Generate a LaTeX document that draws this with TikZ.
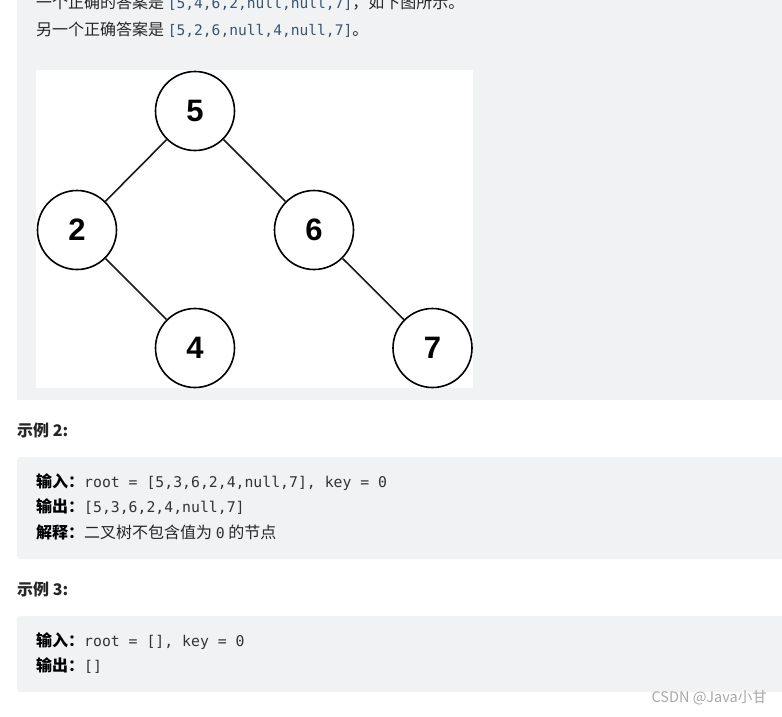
\documentclass[tikz,border=0pt]{standalone}
\usepackage{fontspec}
\newfontfamily\cjk{Noto Sans CJK SC}
\newfontfamily\mono{DejaVu Sans Mono}
\newfontfamily\arial{Liberation Sans}
\definecolor{boxgray}{HTML}{F1F2F4}
\definecolor{txt}{HTML}{262626}
\definecolor{codeblue}{HTML}{3A5570}
\definecolor{codegray}{HTML}{333333}
\definecolor{wm}{HTML}{A8A8A8}
\begin{document}
\begin{tikzpicture}[x=1pt,y=-1pt,
  panel/.style={fill=boxgray,draw=none,rounded corners=3pt},
  treenode/.style={circle,draw=black,line width=1.6pt,fill=white,minimum size=79pt,inner sep=0pt,font=\arial\bfseries\fontsize{31}{31}\selectfont},
  edge/.style={line width=1.6pt,draw=black!90},
  body/.style={anchor=west,inner sep=0pt,text=txt,font=\cjk\fontsize{16}{16}\selectfont},
  heading/.style={anchor=west,inner sep=0pt,text=txt,font=\cjk\bfseries\fontsize{16}{16}\selectfont},
  watermark/.style={anchor=east,inner sep=0pt,text=wm,font=\cjk\fontsize{14.5}{14.5}\selectfont}]
\useasboundingbox (0,0) rectangle (782,716);
\fill[white] (0,0) rectangle (782,716);
% panels
\fill[boxgray] (17,-5) rectangle (782,400);
\path[panel] (17,457) rectangle (790,559);
\path[panel] (17,616) rectangle (790,692);
% top text
\node[body] (t1) at (36,3) {一个正确的答案是 {\mono\fontsize{14.6}{14.6}\selectfont\color{codeblue}[5,4,6,2,null,null,7]}，如下图所示。};
\node[body] (t2) at (36,30) {另一个正确答案是 {\mono\fontsize{14.6}{14.6}\selectfont\color{codeblue}[5,2,6,null,4,null,7]}。};
% image
\fill[white] (36,70) rectangle (473,388);
\node[treenode] (n5) at (195,111) {5};
\node[treenode] (n2) at (77,230) {2};
\node[treenode] (n6) at (314,230) {6};
\node[treenode] (n4) at (195,348) {4};
\node[treenode] (n7) at (432.5,348) {7};
\draw[edge] (n5) -- (n2);
\draw[edge] (n5) -- (n6);
\draw[edge] (n2) -- (n4);
\draw[edge] (n6) -- (n7);
% example 2
\node[heading] (h2) at (17,430) {示例 2:};
\node[body] (e2a) at (36,482) {{\bfseries\color{black}输入：}{\mono\fontsize{14.8}{14.8}\selectfont\color{codegray}root = [5,3,6,2,4,null,7], key = 0}};
\node[body] (e2b) at (36,507) {{\bfseries\color{black}输出：}{\mono\fontsize{14.8}{14.8}\selectfont\color{codegray}[5,3,6,2,4,null,7]}};
\node[body] (e2c) at (36,532) {{\bfseries\color{black}解释：}二叉树不包含值为 {\mono\fontsize{14.8}{14.8}\selectfont\color{codegray}0} 的节点};
% example 3
\node[heading] (h3) at (17,589) {示例 3:};
\node[body] (e3a) at (36,641) {{\bfseries\color{black}输入：}{\mono\fontsize{14.8}{14.8}\selectfont\color{codegray}root = [], key = 0}};
\node[body] (e3b) at (36,666) {{\bfseries\color{black}输出：}{\mono\fontsize{14.8}{14.8}\selectfont\color{codegray}[]}};
\node[watermark] (wmk) at (767,698) {CSDN @Java小甘};
\end{tikzpicture}
\end{document}
